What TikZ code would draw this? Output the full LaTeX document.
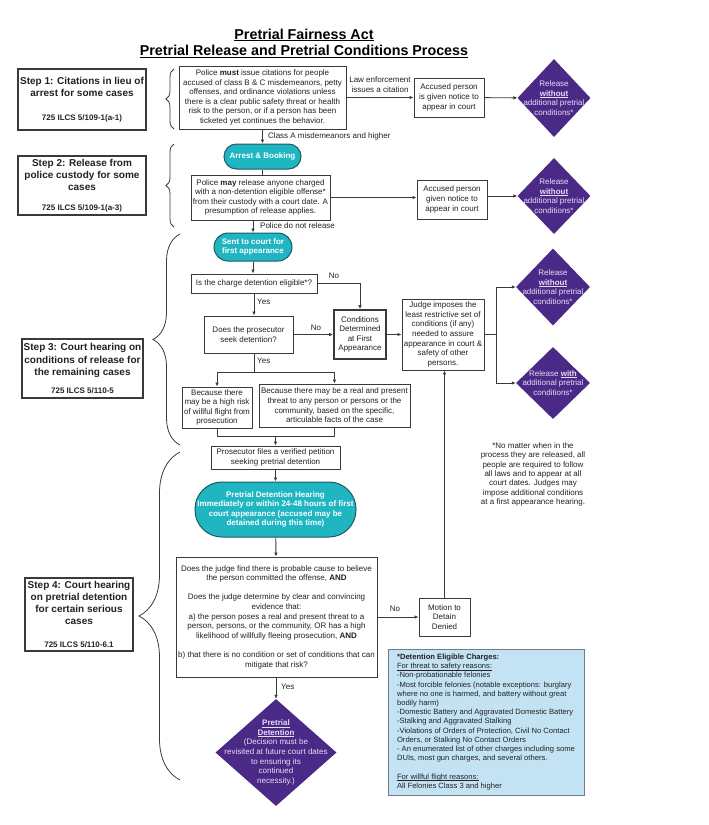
\documentclass[tikz,border=0pt]{standalone}
\usepackage{fontspec}
\setmainfont{Liberation Sans}
\usetikzlibrary{arrows.meta,shapes.geometric,decorations.pathreplacing}
\definecolor{tealfill}{HTML}{1FB5C1}
\definecolor{tealline}{HTML}{1C5A66}
\definecolor{violetfill}{HTML}{4B2A87}
\definecolor{lavtext}{HTML}{E6DDF6}
\definecolor{skyfill}{HTML}{C3E3F4}
\definecolor{skyline}{HTML}{707C86}
\definecolor{linegray}{HTML}{3A3A3A}
\definecolor{txtgray}{HTML}{222222}
\newsavebox{\ulbox}
\newcommand{\uln}[2][1.3pt]{\leavevmode\sbox{\ulbox}{#2}\rlap{\rule[-#1]{\wd\ulbox}{0.5pt}}\usebox{\ulbox}}
\tikzset{
  base/.style={font=\fontsize{8}{9.6}\selectfont, text=txtgray, align=center},
  box/.style={base, draw=linegray, line width=0.9pt, fill=white, inner sep=1pt},
  stepbox/.style={box, font=\fontsize{10}{12.2}\selectfont\bfseries, line width=1.1pt},
  pill/.style={base, font=\fontsize{8}{9.6}\selectfont\bfseries, text=white, draw=tealline, fill=tealfill, line width=1pt, inner sep=0pt},
  diam/.style={diamond, fill=violetfill, inner sep=0pt},
  diatext/.style={base, text=lavtext},
  lbl/.style={base, inner sep=1pt},
  arr/.style={-{Latex[length=4pt,width=3.5pt]}, draw=linegray, line width=0.9pt},
  lnk/.style={draw=linegray, line width=0.9pt},
  curly/.style={decorate, decoration={brace, amplitude=#1}, draw=linegray, line width=0.8pt}
}
\newcommand{\reffont}{\fontsize{8}{9.6}\selectfont\bfseries}
\begin{document}
\begin{tikzpicture}[x=1pt,y=-1pt]
\useasboundingbox (0,0) rectangle (709,825);

\node[base, font=\fontsize{14.3}{16.5}\selectfont\bfseries, text=black] (title) at (304,43)
  {\uln[1.6pt]{Pretrial Fairness Act}\\\uln[1.6pt]{Pretrial Release and Pretrial Conditions Process}};

\node[stepbox, minimum width=128, minimum height=61] (step1) at (82,99.5)
  {Step 1: Citations in lieu of\\arrest for some cases\\[11.8pt]\reffont 725 ILCS 5/109-1(a-1)};
\node[stepbox, minimum width=128, minimum height=59] (step2) at (82,185.5)
  {Step 2: Release from\\police custody for some\\cases\\[7.8pt]\reffont 725 ILCS 5/109-1(a-3)};
\node[stepbox, minimum width=121, minimum height=59] (step3) at (82.5,368.5)
  {Step 3: Court hearing on\\conditions of release for\\the remaining cases\\[5.8pt]\reffont 725 ILCS 5/110-5};
\node[stepbox, minimum width=108, minimum height=73] (step4) at (79,614.5)
  {Step 4: Court hearing\\on pretrial detention\\for certain serious\\cases\\[10.8pt]\reffont 725 ILCS 5/110-6.1};

\draw[curly=8pt] (174,129) -- (174,69);
\draw[curly=8pt] (174,227) -- (174,144);
\draw[curly=27pt] (180,445) -- (180,234);
\draw[curly=41pt] (180,780) -- (180,452);

\node[box, minimum width=167, minimum height=63] (must) at (262.5,97.5)
  {Police \textbf{must} issue citations for people\\accused of class B \& C misdemeanors, petty\\offenses, and ordinance violations unless\\there is a clear public safety threat or health\\risk to the person, or if a person has been\\ticketed yet continues the behavior.};
\node[lbl] (cite) at (380,84.5) {Law enforcement\\issues a citation};
\node[box, minimum width=70, minimum height=39] (acc1) at (449,97.5) {Accused person\\is given notice to\\appear in court};
\node[diam, minimum width=73, minimum height=78,
  label={[diatext]center:Release\\\textbf{\uln{without}}\\additional pretrial\\conditions*}] (dia1) at (554,98) {};

\node[pill, rounded corners=12.5pt, minimum width=77, minimum height=25] (arrest) at (262.5,156.5) {Arrest \& Booking};
\node[box, minimum width=139, minimum height=45] (may) at (260.5,197.5)
  {Police \textbf{may} release anyone charged\\with a non-detention eligible offense*\\from their custody with a court date. A\\presumption of release applies.};
\node[box, minimum width=70, minimum height=39] (acc2) at (452,199.5) {Accused person\\given notice to\\appear in court};
\node[diam, minimum width=73, minimum height=76,
  label={[diatext]center:Release\\\textbf{\uln{without}}\\additional pretrial\\conditions*}] (dia2) at (554,196) {};

\node[pill, rounded corners=14pt, minimum width=78, minimum height=28] (sent) at (253,247) {Sent to court for\\first appearance};
\node[box, minimum width=126, minimum height=19] (elig) at (254,283.5) {Is the charge detention eligible*?};
\node[box, minimum width=89, minimum height=37] (seek) at (248.5,334.5) {Does the prosecutor\\seek detention?};
\node[box, line width=1.6pt, minimum width=52, minimum height=49] (cond) at (360,334.5) {Conditions\\Determined\\at First\\Appearance};
\node[box, minimum width=82, minimum height=71] (judge) at (443,334.5)
  {Judge imposes the\\least restrictive set of\\conditions (if any)\\needed to assure\\appearance in court \&\\safety of other\\persons.};
\node[diam, minimum width=74, minimum height=77,
  label={[diatext]center:Release\\\textbf{\uln{without}}\\additional pretrial\\conditions*}] (dia3) at (553,287) {};
\node[diam, minimum width=74, minimum height=72,
  label={[diatext]center:Release \textbf{\uln{with}}\\additional pretrial\\conditions*}] (dia4) at (553,383) {};

\node[box, minimum width=70, minimum height=41] (flight) at (217,407.5) {Because there\\may be a high risk\\of willful flight from\\prosecution};
\node[box, minimum width=151, minimum height=43] (threat) at (334.5,405.5)
  {Because there may be a real and present\\threat to any person or persons or the\\community, based on the specific,\\articulable facts of the case};
\node[box, minimum width=129, minimum height=23] (files) at (275.5,457.5) {Prosecutor files a verified petition\\seeking pretrial detention};
\node[pill, rounded corners=27pt, minimum width=161, minimum height=55] (hearing) at (275.5,509.5)
  {Pretrial Detention Hearing\\Immediately or within 24-48 hours of first\\court appearance (accused may be\\detained during this time)};
\node[box, minimum width=201, minimum height=120, inner sep=0pt] (decide) at (276.5,617)
  {Does the judge find there is probable cause to believe\\the person committed the offense, \textbf{AND}\\[9.6pt]Does the judge determine by clear and convincing\\evidence that:\\a) the person poses a real and present threat to a\\person, persons, or the community, OR has a high\\likelihood of willfully fleeing prosecution, \textbf{AND}\\[9.6pt]b) that there is no condition or set of conditions that can\\mitigate that risk?};
\node[box, minimum width=51, minimum height=38] (motion) at (444.5,617) {Motion to\\Detain\\Denied};
\node[diam, minimum width=121, minimum height=107,
  label={[diatext]center:\textbf{\uln{Pretrial}}\\\textbf{\uln{Detention}}\\(Decision must be\\revisited at future court dates\\to ensuring its\\continued\\necessity.)}] (detain) at (276,752.5) {};

\node[lbl, font=\fontsize{8}{9.3}\selectfont] (note) at (533,474.5)
  {*No matter when in the\\process they are released, all\\people are required to follow\\all laws and to appear at all\\court dates. Judges may\\impose additional conditions\\at a first appearance hearing.};
\node[base, font=\fontsize{7.6}{9.2}\selectfont, draw=skyline, fill=skyfill, line width=0.8pt, align=left,
  minimum width=196, minimum height=146, inner sep=4.5pt] (charges) at (486,722)
  {\textbf{*Detention Eligible Charges:}\\\uln{For threat to safety reasons:}\\-Non-probationable felonies\\-Most forcible felonies (notable exceptions: burglary\\where no one is harmed, and battery without great\\bodily harm)\\-Domestic Battery and Aggravated Domestic Battery\\-Stalking and Aggravated Stalking\\-Violations of Orders of Protection, Civil No Contact\\Orders, or Stalking No Contact Orders\\- An enumerated list of other charges including some\\DUIs, most gun charges, and several others.\\[9.2pt]\uln{For willful flight reasons:}\\All Felonies Class 3 and higher};

\draw[arr] (must) -- (acc1);
\draw[arr] (acc1) -- (dia1);
\draw[arr] (must) -- (arrest);
\node[lbl, anchor=west] (classa) at (267,136) {Class A misdemeanors and higher};
\draw[lnk] (arrest.south) -- (arrest.south |- may.north);
\draw[arr] (may.east) -- (may.east -| acc2.west);
\draw[arr] (acc2.east |- dia2.west) -- (dia2.west);
\draw[arr] (sent.north |- may.south) -- (sent.north);
\node[lbl, anchor=west] (norel) at (259,226) {Police do not release};
\draw[arr] (sent) -- (sent |- elig.north);
\draw[arr] (elig.east) -| (cond.north);
\node[lbl] (no1) at (334,276) {No};
\draw[arr] (elig.south) -- (elig.south |- seek.north);
\node[lbl, anchor=west] (yes1) at (256,302) {Yes};
\draw[arr] (seek.east) -- (seek.east -| cond.west);
\node[lbl] (no2) at (316,328) {No};
\draw[arr] (cond.east) -- (cond.east -| judge.west);
\draw[arr] (judge.east) -- ++(12,0) |- (dia3.west);
\draw[arr] (judge.east) -- ++(12,0) |- (dia4.west);
\draw[lnk] (elig.south |- seek.south) -- ++(0,19) coordinate (split);
\node[lbl, anchor=west] (yes2) at (256,361) {Yes};
\draw[arr] (split) -| (flight.north);
\draw[arr] (split) -| (threat.north);
\draw[lnk] (flight.south) -- ++(0,8) coordinate (fj) -| (threat.south);
\draw[arr] (files.north |- fj) -- (files.north);
\draw[arr] (files) -- (hearing);
\draw[arr] (hearing) -- (decide);
\draw[arr] (decide.east |- motion.west) -- (motion.west);
\node[lbl] (no3) at (395,609) {No};
\draw[arr] (motion.north) -- (motion.north |- judge.south);
\draw[arr] (decide.south -| detain.north) -- (detain.north);
\node[lbl, anchor=west] (yes3) at (280,687) {Yes};
\end{tikzpicture}
\end{document}
